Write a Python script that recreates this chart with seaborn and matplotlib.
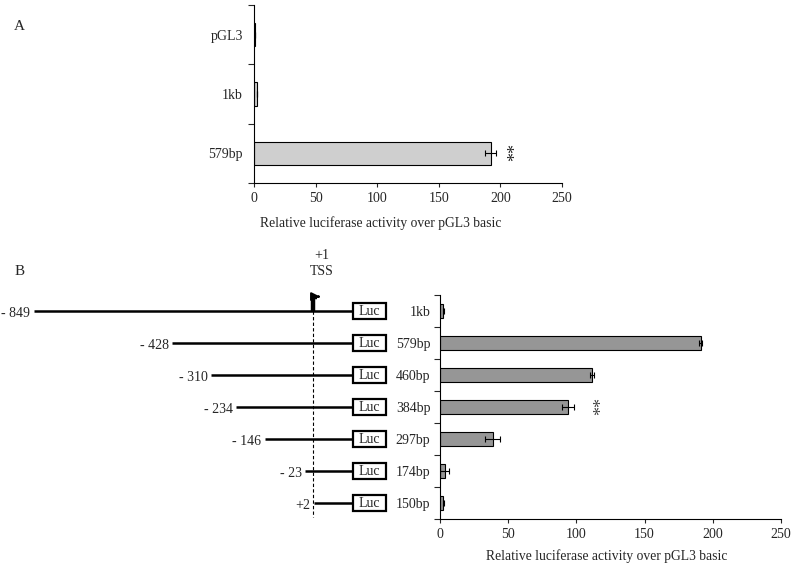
import numpy as np
import matplotlib
matplotlib.use("Agg")
import matplotlib.pyplot as plt
from matplotlib.patches import Rectangle
import seaborn as sns

# panel A values
a_labels = ['pGL3', '1kb', '579bp']
a_values = [1.0, 2.8, 192.0]
a_errors = [0.0, 0.0, 4.5]

# panel B values
b_labels = ['1kb', '579bp', '460bp', '384bp', '297bp', '174bp', '150bp']
b_values = [2.4, 191.0, 111.5, 94.0, 38.5, 3.3, 2.4]
b_errors = [0.5, 0.8, 1.6, 4.5, 5.5, 3.5, 0.3]

# promoter constructs (start position relative to TSS)
b_starts = [-849, -428, -310, -234, -146, -23, 2]
b_start_labels = ['- 849', '- 428', '- 310', '- 234', '- 146', '- 23', '+2']

x_ticks = [0, 50, 100, 150, 200, 250]
xlabel = 'Relative luciferase activity over pGL3 basic'

sns.set_theme(style="ticks")
plt.rcParams['font.family'] = ['Liberation Serif', 'DejaVu Serif']
plt.rcParams['font.size'] = 10

fig = plt.figure(figsize=(8, 5.64), dpi=100)


def style_bar_axis(ax, n, pad):
    sns.despine(ax=ax)
    ax.set_xlim(0, 250)
    ax.set_ylim(n - 0.5, -0.5)
    ax.set_xticks(x_ticks)
    ax.set_yticks(np.arange(-0.5, n, 1), minor=True)
    ax.tick_params(axis='y', which='major', length=0, pad=pad, labelsize=10)
    ax.tick_params(axis='y', which='minor', length=4, width=0.8, direction='out')
    ax.tick_params(axis='x', length=3, width=0.8, direction='out', labelsize=10)
    ax.set_ylabel('')
    for sp in ax.spines.values():
        sp.set_linewidth(0.8)
        sp.set_color('black')


# ---- A ----
axA = fig.add_axes([254 / 800, 1 - 183 / 564, (562 - 254) / 800, 178 / 564])
sns.barplot(x=a_values, y=a_labels, orient='h', color='#cfcfcf', edgecolor='black',
            linewidth=0.8, width=0.39, errorbar=None, ax=axA)
axA.errorbar(a_values, np.arange(len(a_values)), xerr=a_errors, fmt='none',
             ecolor='black', elinewidth=0.8, capsize=2.5, capthick=0.8)
style_bar_axis(axA, len(a_labels), 8)
axA.set_xlabel(xlabel, fontsize=9.8)
axA.xaxis.set_label_coords(0.412, -0.185)
axA.text(203, 2, '**', rotation=270, ha='center', va='center', fontsize=13)

# ---- B bars ----
axB = fig.add_axes([440 / 800, 1 - 519 / 564, (781 - 440) / 800, 224 / 564])
sns.barplot(x=b_values, y=b_labels, orient='h', color='#969696', edgecolor='black',
            linewidth=0.8, width=0.42, errorbar=None, ax=axB)
axB.errorbar(b_values, np.arange(len(b_values)), xerr=b_errors, fmt='none',
             ecolor='black', elinewidth=0.8, capsize=2.5, capthick=0.8)
style_bar_axis(axB, len(b_labels), 7)
axB.set_xlabel(xlabel, fontsize=9.8)
axB.xaxis.set_label_coords(0.49, -0.134)
axB.text(110, 3, '**', rotation=270, ha='center', va='center', fontsize=13, color='#444444')

# ---- B construct diagram ----
px_per_bp = 0.329
axD = fig.add_axes([0, 1 - 519 / 564, 400 / 800, 224 / 564])
axD.set_xlim(-313 / px_per_bp, (400 - 313) / px_per_bp)
axD.set_ylim(len(b_labels) - 0.5, -0.5)
axD.axis('off')

LUC_LEFT, LUC_WIDTH, LUC_HEIGHT = 122, 100, 0.5
for i, (start, lab) in enumerate(zip(b_starts, b_start_labels)):
    axD.plot([start, LUC_LEFT], [i, i], color='black', lw=1.8, solid_capstyle='butt')
    axD.annotate(lab, (start, i), xytext=(-2.5, -2), textcoords='offset points',
                 ha='right', va='center', fontsize=10)
    axD.add_patch(Rectangle((LUC_LEFT, i - LUC_HEIGHT / 2), LUC_WIDTH, LUC_HEIGHT,
                            facecolor='white', edgecolor='black', lw=1.6))
    axD.text(LUC_LEFT + LUC_WIDTH / 2, i, 'Luc', ha='center', va='center', fontsize=10)

# dashed TSS line
axD.plot([0, 0], [0, len(b_labels) - 0.55], color='black', lw=0.8, ls=(0, (3, 2)))
# bent TSS arrow
axD.plot([0, 0, 12], [0, -0.45, -0.45], color='black', lw=3.2, solid_joinstyle='round',
         solid_capstyle='butt')
axD.annotate('', xy=(30, -0.45), xytext=(8, -0.45),
             arrowprops=dict(arrowstyle='-|>', color='black', lw=1.5, mutation_scale=12))
axD.text(27, -1.72, '+1', ha='center', va='center', fontsize=10, clip_on=False)
axD.text(27, -1.22, 'TSS', ha='center', va='center', fontsize=10, clip_on=False)

fig.text(19 / 800, 1 - 27 / 564, 'A', ha='center', va='center', fontsize=11)
fig.text(20 / 800, 1 - 271 / 564, 'B', ha='center', va='center', fontsize=11)

fig.savefig('out.png', dpi=100)
